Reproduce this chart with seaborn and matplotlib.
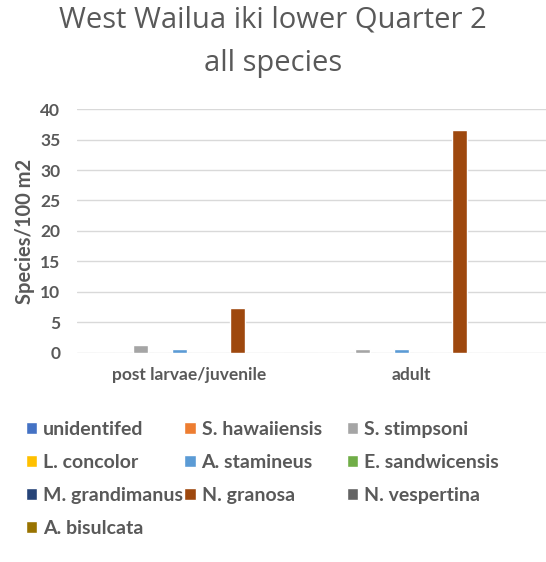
import pandas as pd
import seaborn as sns
import matplotlib.pyplot as plt
from matplotlib.patches import Patch

# data
stages = ['post larvae/juvenile', 'adult']
species = ['unidentifed', 'S. hawaiiensis', 'S. stimpsoni', 'L. concolor', 'A. stamineus',
           'E. sandwicensis', 'M. grandimanus', 'N. granosa', 'N. vespertina', 'A. bisulcata']
larvae = [0, 0, 1.3, 0, 0.6, 0, 0, 7.3, 0, 0]
adult = [0, 0, 0.6, 0, 0.6, 0, 0, 36.5, 0, 0]
colors = ['#4472C4', '#ED7D31', '#A5A5A5', '#FFC000', '#5B9BD5',
          '#70AD47', '#264478', '#9E480E', '#636363', '#997300']

rows = []
for sp, a, b in zip(species, larvae, adult):
    rows.append({'stage': stages[0], 'species': sp, 'value': a})
    rows.append({'stage': stages[1], 'species': sp, 'value': b})
df = pd.DataFrame(rows)

sns.set_style('white')
plt.rcParams['font.family'] = ['Lato', 'DejaVu Sans']
grey = '#595959'

fig = plt.figure(figsize=(5.46, 5.62), dpi=100)
ax = fig.add_axes([0.141, 0.372, 0.859, 0.434])
sns.barplot(data=df, x='stage', y='value', hue='species', hue_order=species,
            palette=colors, width=0.87, gap=0.22, saturation=1, legend=False, ax=ax)

ax.set_ylim(0, 40)
ax.set_xlim(-0.505, 1.608)
ax.set_yticks(range(0, 41, 5))
ax.yaxis.grid(True, color='#D9D9D9', linewidth=1)
ax.set_axisbelow(True)
for s in ax.spines.values():
    s.set_visible(False)
ax.tick_params(length=0, colors=grey, labelsize=12.5)
ax.tick_params(axis='x', pad=10)
ax.tick_params(axis='y', pad=12)
for lab in ax.get_xticklabels() + ax.get_yticklabels():
    lab.set_fontweight('bold')
ax.set_xlabel('')
ax.set_ylabel('Species/100 m2', color=grey, fontsize=14.5, fontweight='bold', labelpad=4)

fig.suptitle('West Wailua iki lower Quarter 2\nall species', x=0.5, y=0.99,
             fontsize=21, color=grey, linespacing=1.65, family=['Open Sans', 'DejaVu Sans'])

# legend, row-major like Excel: one legend per column
col_x = [0.047, 0.337, 0.635]
for c in range(3):
    idx = list(range(c, len(species), 3))
    handles = [Patch(facecolor=colors[i]) for i in idx]
    labels = [species[i] for i in idx]
    leg = fig.legend(handles, labels, loc='upper left', bbox_to_anchor=(col_x[c], 0.251),
                     frameon=False, borderpad=0, borderaxespad=0,
                     handlelength=0.6, handleheight=0.6, handletextpad=0.3,
                     labelspacing=0.82, prop={'weight': 'bold', 'size': 14})
    for t in leg.get_texts():
        t.set_color(grey)

fig.savefig('out.png', dpi=100)
